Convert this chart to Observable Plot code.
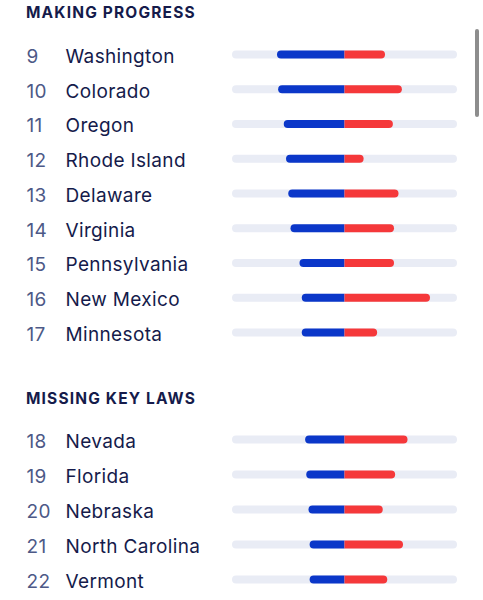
<!DOCTYPE html>
<html>
<head>
<meta charset="utf-8">
<script src="https://cdn.jsdelivr.net/npm/d3@7"></script>
<script src="https://cdn.jsdelivr.net/npm/@observablehq/plot@0.6"></script>
<style>
  html, body { margin: 0; padding: 0; background: #fff; }
  body { width: 483px; height: 600px; position: relative; overflow: hidden; font-family: Inter, "Noto Sans", sans-serif; }
  .heading { position: absolute; left: 26px; font-weight: 700; font-size: 15.5px; letter-spacing: 0.075em; color: #151b4b; line-height: 1; }
  .chart { position: absolute; left: 0; }
  .chart text { letter-spacing: 0.35px; }
  .scroll { position: absolute; left: 475px; top: 29px; width: 4px; height: 88px; border-radius: 2px; background: #8d8d8d; }
</style>
</head>
<body>
<script>
// Group 1: Making progress
const ranks1 = [9, 10, 11, 12, 13, 14, 15, 16, 17];
const states1 = ["Washington", "Colorado", "Oregon", "Rhode Island", "Delaware", "Virginia", "Pennsylvania", "New Mexico", "Minnesota"];
const blue1 = [60, 59, 54, 52, 50, 48, 40, 38, 38];
const red1 = [36, 51, 43, 17, 48, 44, 44, 76, 29];

// Group 2: Missing key laws
const ranks2 = [18, 19, 20, 21, 22];
const states2 = ["Nevada", "Florida", "Nebraska", "North Carolina", "Vermont"];
const blue2 = [35, 34, 32, 31, 31];
const red2 = [56, 45, 34, 52, 38];

const groupTitles = ["MAKING PROGRESS", "MISSING KEY LAWS"];
const trackMax = 100;

const BLUE = "#0b37c9";
const RED = "#f5383a";
const TRACK = "#e9ecf5";

function build(ranks, states, blue, red) {
  return states.map((s, i) => ({rank: ranks[i], state: s, blue: blue[i], red: red[i]}));
}

function chart(data, top, step) {
  const h = data.length * step;
  const barH = 8;
  const inset = (step - barH) / 2;
  const common = {y: "state", insetTop: inset, insetBottom: inset};
  const p = Plot.plot({
    width: 483,
    height: h,
    marginLeft: 232,
    marginRight: 26,
    marginTop: 0,
    marginBottom: 0,
    x: {domain: [-trackMax, trackMax], axis: null},
    y: {domain: data.map(d => d.state), axis: null, padding: 0, round: false},
    style: {fontFamily: "Inter, 'Noto Sans', sans-serif", background: "transparent", overflow: "visible"},
    marks: [
      Plot.barX(data, {...common, x1: () => -trackMax, x2: () => trackMax, fill: TRACK, rx: 4}),
      Plot.barX(data, {...common, x1: d => -d.blue, x2: 0, fill: BLUE, rx1: 4}),
      Plot.barX(data, {...common, x1: 0, x2: d => d.red, fill: RED, rx2: 4}),
      Plot.text(data, {y: "state", text: d => String(d.rank), frameAnchor: "left", textAnchor: "start", dx: -206, dy: 2, fontSize: 19, fill: "#4d5987"}),
      Plot.text(data, {y: "state", text: "state", frameAnchor: "left", textAnchor: "start", dx: -167, dy: 2, fontSize: 19, fill: "#151b4b"})
    ]
  });
  p.classList.add("chart");
  p.style.top = top + "px";
  return p;
}

function heading(text, top) {
  const d = document.createElement("div");
  d.className = "heading";
  d.textContent = text;
  d.style.top = top + "px";
  return d;
}

document.body.appendChild(heading(groupTitles[0], 4.5));
document.body.appendChild(chart(build(ranks1, states1, blue1, red1), 54 - 34.75 / 2, 34.75));
document.body.appendChild(heading(groupTitles[1], 390.5));
document.body.appendChild(chart(build(ranks2, states2, blue2, red2), 439 - 17.5, 35));
const sb = document.createElement("div");
sb.className = "scroll";
document.body.appendChild(sb);
</script>
</body>
</html>
